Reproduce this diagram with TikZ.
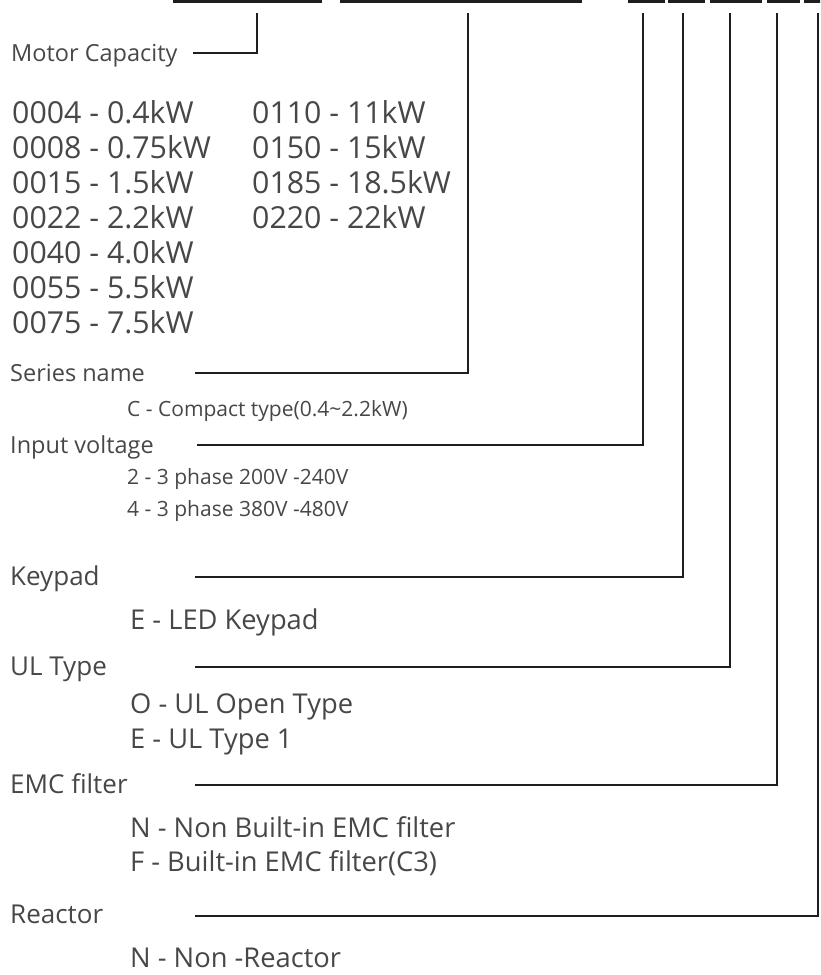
\documentclass[tikz,border=0pt]{standalone}
\usepackage{fontspec}
\setmainfont{Open Sans}
\usepackage{xcolor}
\usepackage{tikz}
\usetikzlibrary{positioning}

\definecolor{inkgray}{HTML}{474747}
\definecolor{leadgray}{HTML}{1E1E1E}

\tikzset{
    lead/.style = {line width=2pt, color=leadgray},
    codebar/.style = {line width=4pt, color=leadgray},
    fieldsmall/.style = {anchor=base west, inner sep=0pt, text=inkgray, font=\fontsize{23.5}{28}\selectfont},
    fieldname/.style = {anchor=base west, inner sep=0pt, text=inkgray, font=\fontsize{26}{30}\selectfont},
    capitem/.style = {anchor=base west, inner sep=0pt, text=inkgray, font=\fontsize{30.3}{35}\selectfont},
    optsmall/.style = {anchor=base west, inner sep=0pt, text=inkgray, font=\fontsize{21}{25}\selectfont},
    optitem/.style = {anchor=base west, inner sep=0pt, text=inkgray, font=\fontsize{27.3}{31}\selectfont}
}

\begin{document}
\begin{tikzpicture}[x=1pt, y=-1pt]
        \useasboundingbox (0, 0) rectangle (820, 975);
        \clip (0, 0) rectangle (820, 975);

        % cut-off code fields along the top edge
        \draw[codebar] (173, 1) -- (322, 1);
        \draw[codebar] (340, 1) -- (582, 1);
        \draw[codebar] (628, 1) -- (665, 1);
        \draw[codebar] (668, 1) -- (705, 1);
        \draw[codebar] (710, 1) -- (762, 1);
        \draw[codebar] (767, 1) -- (800, 1);
        \draw[codebar] (804, 1) -- (822, 1);

        \coordinate (capTop) at (257, 13);
        \coordinate (serTop) at (468, 13);
        \coordinate (voltTop) at (643, 13);
        \coordinate (keyTop) at (683, 13);
        \coordinate (ulTop) at (730, 13);
        \coordinate (emcTop) at (777, 13);
        \coordinate (reacTop) at (818, 13);

        % motor capacity
        \node[fieldsmall] (motorcap) at (11, 61) {Motor Capacity};
        \coordinate (capStart) at (193, 53);
        \draw[lead] (capStart) -| (capTop);

        \node[capitem] (cap0004) at (12, 123) {0004 - 0.4kW};
        \node[capitem] (cap0008) at (12, 158) {0008 - 0.75kW};
        \node[capitem] (cap0015) at (12, 193) {0015 - 1.5kW};
        \node[capitem] (cap0022) at (12, 228) {0022 - 2.2kW};
        \node[capitem] (cap0040) at (12, 263) {0040 - 4.0kW};
        \node[capitem] (cap0055) at (12, 298) {0055 - 5.5kW};
        \node[capitem] (cap0075) at (12, 333) {0075 - 7.5kW};
        \node[capitem] (cap0110) at (252, 123) {0110 - 11kW};
        \node[capitem] (cap0150) at (252, 158) {0150 - 15kW};
        \node[capitem] (cap0185) at (252, 193) {0185 - 18.5kW};
        \node[capitem] (cap0220) at (252, 228) {0220 - 22kW};

        % series name
        \node[fieldsmall] (series) at (10, 381) {Series name};
        \coordinate (serStart) at (195, 373);
        \draw[lead] (serStart) -| (serTop);
        \node[optsmall] (serC) at (127, 416) {C - Compact type(0.4\textasciitilde 2.2kW)};

        % input voltage
        \node[fieldsmall] (voltage) at (10, 453) {Input voltage};
        \coordinate (voltStart) at (197, 445);
        \draw[lead] (voltStart) -| (voltTop);
        \node[optsmall] (volt2) at (127, 484) {2 - 3 phase 200V -240V};
        \node[optsmall] (volt4) at (127, 516) {4 - 3 phase 380V -480V};

        % keypad
        \node[fieldname] (keypad) at (10, 585) {Keypad};
        \coordinate (keyStart) at (195, 577);
        \draw[lead] (keyStart) -| (keyTop);
        \node[optitem] (keyE) at (130, 629) {E - LED Keypad};

        % UL type
        \node[fieldname] (ultype) at (10, 675) {UL Type};
        \coordinate (ulStart) at (195, 667);
        \draw[lead] (ulStart) -| (ulTop);
        \node[optitem] (ulO) at (130, 713) {O - UL Open Type};
        \node[optitem] (ulE) at (130, 748) {E - UL Type 1};

        % EMC filter
        \node[fieldname] (emc) at (10, 793) {EMC filter};
        \coordinate (emcStart) at (195, 785);
        \draw[lead] (emcStart) -| (emcTop);
        \node[optitem] (emcN) at (130, 837) {N - Non Built-in EMC filter};
        \node[optitem] (emcF) at (130, 871) {F - Built-in EMC filter(C3)};

        % reactor
        \node[fieldname] (reactor) at (10, 923) {Reactor};
        \coordinate (reacStart) at (195, 916);
        \draw[lead] (reacStart) -| (reacTop);
        \node[optitem] (reacN) at (130, 967) {N - Non -Reactor};
    \end{tikzpicture}
\end{document}
